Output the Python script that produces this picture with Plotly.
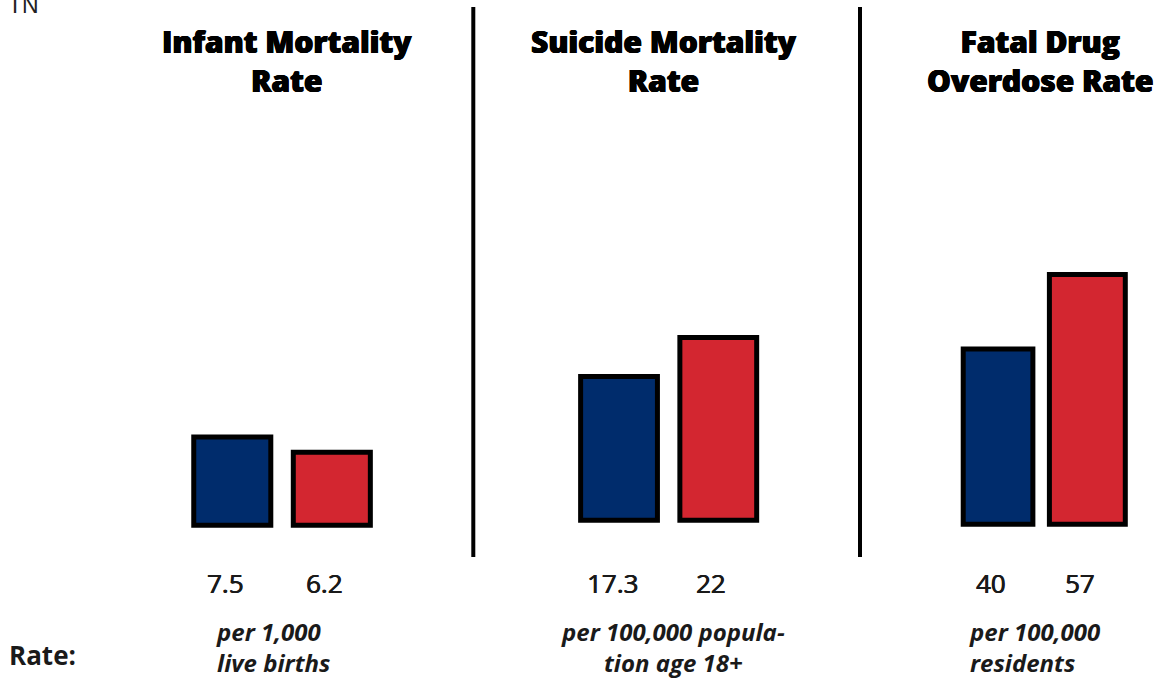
import plotly.graph_objects as go

# ---- data ----
panels = ["Infant Mortality<br>Rate", "Suicide Mortality<br>Rate", "Fatal Drug<br>Overdose Rate"]
tn_values = [7.5, 17.3, 40]
us_values = [6.2, 22, 57]
value_labels_tn = ["7.5", "17.3", "40"]
value_labels_us = ["6.2", "22", "57"]
units = ["per 1,000<br>live births",
         "per 100,000 popula-<br>tion age 18+",
         "per 100,000<br>residents"]
categories = ["TN", "US"]

# ---- layout constants ----
W, H = 1162, 680
BLUE = "#002C6C"
RED = "#D32630"
x_domains_px = [(182.5, 381.6), (569.4, 767.9), (953.4, 1132.0)]
baseline_px = [525.2, 520.2, 524.2]
px_per_unit = [11.76, 8.30, 4.379]
bar_widths = [[0.774, 0.774], [0.774, 0.774], [0.78, 0.85]]
title_x_px = [287, 664, 1040]
units_x_px = [214, 673, 967]
units_align = ["left", "center", "left"]
sep_x_px = [473.3, 860.0]
HEAVY = "0.6px 0 0 #000, -0.6px 0 0 #000, 0 0.4px 0 #000"
SEMI = "0.5px 0 0 #1a1a1a, -0.3px 0 0 #1a1a1a"


def px(x):
    return x / W


def py(y):
    return 1 - y / H


fig = go.Figure()
for i in range(3):
    xa = "x" if i == 0 else f"x{i+1}"
    ya = "y" if i == 0 else f"y{i+1}"
    fig.add_trace(go.Bar(
        x=[0, 1], y=[tn_values[i], us_values[i]],
        width=bar_widths[i],
        marker=dict(color=[BLUE, RED], line=dict(color="black", width=5)),
        xaxis=xa, yaxis=ya, showlegend=False, hoverinfo="skip",
    ))
    k = px_per_unit[i]
    yb = baseline_px[i]
    sfx = "" if i == 0 else str(i + 1)
    fig.layout["xaxis" + sfx] = dict(
        domain=[px(x_domains_px[i][0]), px(x_domains_px[i][1])],
        range=[-0.5, 1.5], visible=False, fixedrange=True, anchor="y" + sfx,
    )
    fig.layout["yaxis" + sfx] = dict(
        domain=[0, 1], range=[-(H - yb) / k, yb / k], visible=False,
        fixedrange=True, anchor="x" + sfx,
    )
    # title
    fig.add_annotation(
        text=panels[i], xref="paper", yref="paper",
        x=px(title_x_px[i]), y=py(61), xanchor="center", yanchor="middle",
        showarrow=False, align="center",
        font=dict(family="Open Sans", size=30, color="black", weight=800, shadow=HEAVY),
    )
    # value labels
    for j, lab in enumerate([value_labels_tn[i], value_labels_us[i]]):
        fig.add_annotation(
            text=lab, xref=xa, yref="paper", x=j, y=py(583),
            xanchor="center", yanchor="middle", xshift=-7, showarrow=False,
            font=dict(family="Open Sans", size=26, color="#1a1a1a", weight=400, shadow=SEMI),
        )
    # units
    fig.add_annotation(
        text="<i>" + units[i] + "</i>", xref="paper", yref="paper",
        x=px(units_x_px[i]), y=py(647),
        xanchor=units_align[i], yanchor="middle", showarrow=False,
        align=units_align[i],
        font=dict(family="Open Sans", size=24, color="#1a1a1a", weight=700),
    )

# separators
for sx in sep_x_px:
    fig.add_shape(type="line", xref="paper", yref="paper",
                  x0=px(sx), x1=px(sx), y0=py(7), y1=py(557),
                  line=dict(color="black", width=4))

# "Rate:" label
fig.add_annotation(text="Rate:", xref="paper", yref="paper", x=px(7), y=py(655),
                   xanchor="left", yanchor="middle", showarrow=False,
                   font=dict(family="Open Sans", size=26, color="#1a1a1a", weight=700))
# cut-off legend text
fig.add_annotation(text="TN", xref="paper", yref="paper", x=px(6), y=py(20),
                   xanchor="left", yanchor="bottom", showarrow=False,
                   font=dict(family="Liberation Sans", size=23, color="#222222"))

fig.update_layout(
    width=W, height=H, margin=dict(l=0, r=0, t=0, b=0),
    paper_bgcolor="white", plot_bgcolor="white",
)
fig.write_html("out.html", config={"displayModeBar": False},
               post_script="document.body.style.margin='0px';")
